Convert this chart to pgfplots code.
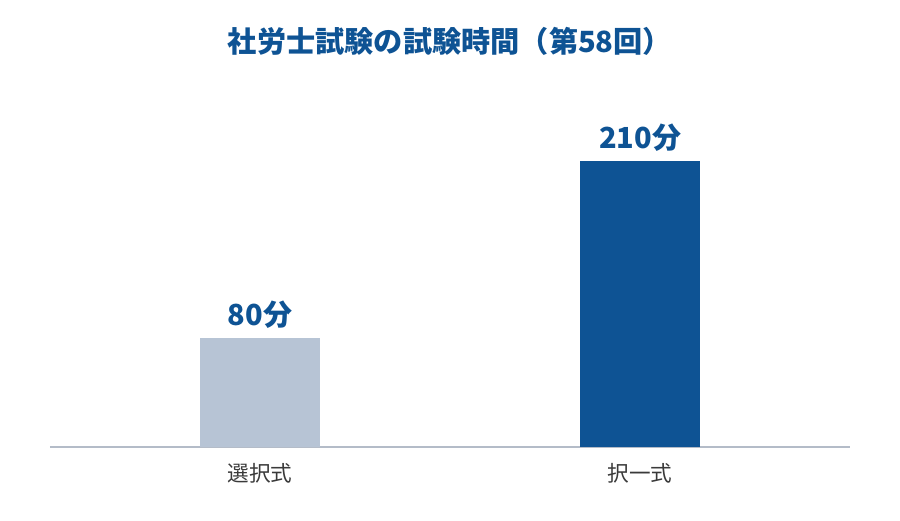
\documentclass[border=0pt]{standalone}
\usepackage{fontspec}
\setmainfont{Noto Sans CJK JP}
\usepackage{pgfplots}
\pgfplotsset{compat=1.18}
\definecolor{darkbar}{HTML}{0E5394}
\definecolor{lightbar}{HTML}{B7C4D5}
\definecolor{axiscol}{HTML}{B4BCC8}
\definecolor{ticktext}{HTML}{3A3A3A}
\begin{document}
\begin{tikzpicture}
\useasboundingbox (-25pt,-36.5pt) rectangle (425pt,223.5pt);
\begin{axis}[
    at={(0,0)}, anchor=south west,
    scale only axis,
    width=400pt, height=173.5pt,
    ymin=0, ymax=254.8,
    xmin=-0.5526, xmax=1.5526,
    ybar, bar width=60pt,
    axis y line=none,
    axis x line*=bottom,
    axis line style={draw=axiscol, line width=0.8pt, -},
    xtick={0,1},
    xticklabels={選択式,択一式},
    major tick length=0pt,
    xticklabel style={anchor=center, yshift=-13pt, font=\fontsize{10.8pt}{12pt}\selectfont, text=ticktext},
    title={社労士試験の試験時間（第58回）},
    title style={at={(0.5,1)}, anchor=center, yshift=23.5pt, font=\fontsize{14.6pt}{16pt}\selectfont\bfseries, text=darkbar},
    nodes near coords={\pgfmathprintnumber{\pgfplotspointmeta}分},
    every node near coord/.append style={anchor=center, yshift=11.5pt, font=\fontsize{14.5pt}{16pt}\selectfont\bfseries, text=darkbar},
    /pgf/number format/assume math mode=true,
]
\addplot[fill=lightbar, draw=none, bar shift=0pt] coordinates {(0,80)};
\addplot[fill=darkbar, draw=none, bar shift=0pt] coordinates {(1,210)};
\end{axis}
\end{tikzpicture}
\end{document}
